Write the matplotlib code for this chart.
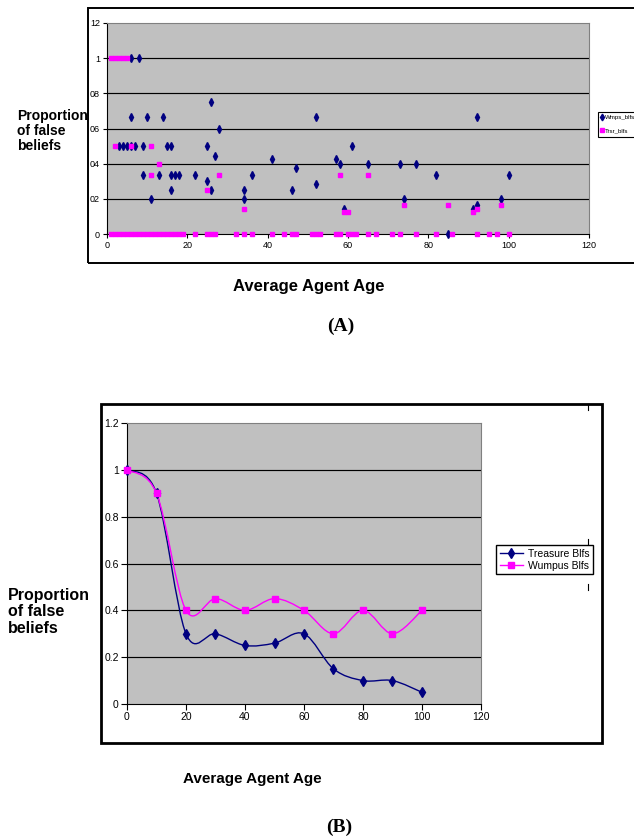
import numpy as np
import matplotlib
matplotlib.use('Agg')
import matplotlib.pyplot as plt
from matplotlib.path import Path
from matplotlib.patches import PathPatch, Rectangle
from matplotlib.lines import Line2D

plt.rcParams['font.family'] = ['Liberation Sans', 'DejaVu Sans']

# ---------------- Data: chart (A) ----------------
wmps_age = [6, 8,
            6, 10, 14,
            3, 4, 5, 6, 7, 9, 15, 16,
            9, 13, 16, 17, 18, 22,
            11, 16,
            25, 26, 28, 27, 25, 26,
            52, 41, 36, 34, 34, 47, 46, 52,
            57, 58, 59, 61, 65, 73, 77, 82, 74, 85,
            92, 100, 98, 92, 91]
wmps_val = [1, 1,
            0.667, 0.667, 0.667,
            0.5, 0.5, 0.5, 0.5, 0.5, 0.5, 0.5, 0.5,
            0.333, 0.333, 0.333, 0.333, 0.333, 0.333,
            0.2, 0.25,
            0.5, 0.75, 0.6, 0.444, 0.3, 0.25,
            0.667, 0.4286, 0.333, 0.25, 0.2, 0.375, 0.25, 0.2857,
            0.4286, 0.4, 0.143, 0.5, 0.4, 0.4, 0.4, 0.333, 0.2, 0.0,
            0.667, 0.333, 0.2, 0.167, 0.143]

trsr_zero_ages = [1, 2, 3, 4, 5, 6, 7, 8, 9, 10, 11, 12, 13, 14, 15, 16, 17, 18, 19,
                  22, 25, 26, 27, 32, 34, 36, 41, 44, 46, 47, 51, 52, 53, 57, 58,
                  60, 61, 62, 65, 67, 71, 73, 77, 82, 86, 92, 95, 97, 100]
trsr_age = [1, 2, 3, 4, 5,
            2, 6, 11,
            13,
            11, 28, 58, 65,
            25,
            34,
            59, 60, 91,
            74, 85, 98, 92] + trsr_zero_ages
trsr_val = [1, 1, 1, 1, 1,
            0.5, 0.5, 0.5,
            0.4,
            0.333, 0.333, 0.333, 0.333,
            0.25,
            0.143,
            0.125, 0.125, 0.125,
            0.167, 0.167, 0.167, 0.143] + [0.0] * len(trsr_zero_ages)

top_xticks = [0, 20, 40, 60, 80, 100, 120]
top_yticks = [0, 0.2, 0.4, 0.6, 0.8, 1.0, 1.2]
top_yticklabels = ['0', '02', '04', '06', '08', '1', '12']
top_legend = ['Wmps_blfs', 'Trsr_blfs']

# ---------------- Data: chart (B) ----------------
ages_b = [0, 10, 20, 30, 40, 50, 60, 70, 80, 90, 100]
treasure_blfs = [1.0, 0.9, 0.3, 0.3, 0.25, 0.26, 0.3, 0.15, 0.1, 0.1, 0.05]
wumpus_blfs = [1.0, 0.9, 0.4, 0.45, 0.4, 0.45, 0.4, 0.3, 0.4, 0.3, 0.4]
bot_xticks = [0, 20, 40, 60, 80, 100, 120]
bot_yticks = [0, 0.2, 0.4, 0.6, 0.8, 1.0, 1.2]
bot_yticklabels = ['0', '0.2', '0.4', '0.6', '0.8', '1', '1.2']
bot_legend = ['Treasure Blfs', 'Wumpus Blfs']

NAVY = '#000080'
MAG = '#FF00FF'
PLOTBG = '#C0C0C0'

W, H = 634, 839
fig = plt.figure(figsize=(W / 100, H / 100), dpi=100)


def fx(x):
    return x / W


def fy(y):
    return 1 - y / H


def smooth_path(x, y):
    pts = np.column_stack([x, y]).astype(float)
    n = len(pts)
    verts = [pts[0]]
    codes = [Path.MOVETO]
    for i in range(n - 1):
        p0 = pts[i - 1] if i > 0 else pts[i]
        p1 = pts[i]
        p2 = pts[i + 1]
        p3 = pts[i + 2] if i + 2 < n else pts[i + 1]
        c1 = p1 + (p2 - p0) / 6.0
        c2 = p2 - (p3 - p1) / 6.0
        verts += [c1, c2, p2]
        codes += [Path.CURVE4] * 3
    return Path(verts, codes)


def style_axes(ax, xt, yt, ytl, labelsize, ticklen):
    ax.set_facecolor(PLOTBG)
    ax.set_xlim(0, 120)
    ax.set_ylim(0, 1.2)
    ax.set_xticks(xt)
    ax.set_xticklabels([str(v) for v in xt])
    ax.set_yticks(yt)
    ax.set_yticklabels(ytl)
    for s in ['left', 'bottom']:
        ax.spines[s].set_color('black')
        ax.spines[s].set_linewidth(0.8)
    for s in ['top', 'right']:
        ax.spines[s].set_color('#808080')
        ax.spines[s].set_linewidth(0.8)
    ax.tick_params(direction='out', length=ticklen, width=0.8, colors='black',
                   labelsize=labelsize, pad=2)
    for v in yt[1:-1]:
        ax.axhline(v, color='black', lw=0.85, zorder=1)


# ---------------- Chart (A) ----------------
fig.add_artist(Rectangle((fx(88), fy(263)), (W + 10 - 88) / W, (263 - 8) / H,
                         transform=fig.transFigure, fill=False,
                         edgecolor='black', lw=1.4, clip_on=False))
axA = fig.add_axes([fx(107), fy(234), (589 - 107) / W, (234 - 23) / H])
style_axes(axA, top_xticks, top_yticks, top_yticklabels, 6.5, 3)
axA.plot(wmps_age, wmps_val, ls='none', marker='d', ms=3.6, color=NAVY,
         mec=NAVY, zorder=3, clip_on=False)
axA.plot(trsr_age, trsr_val, ls='none', marker='s', ms=3.0, color=MAG,
         mec=MAG, zorder=4, clip_on=False)

legA = fig.legend(handles=[Line2D([], [], ls='none', marker='d', ms=3.4, color=NAVY),
                           Line2D([], [], ls='none', marker='s', ms=2.8, color=MAG)],
                  labels=top_legend, loc='upper left',
                  bbox_to_anchor=(fx(598), fy(112)), frameon=True, fancybox=False,
                  edgecolor='black', framealpha=1, fontsize=4.4, handlelength=0.4,
                  handletextpad=0.2, borderpad=0.5, labelspacing=1.3,
                  borderaxespad=0)
legA.get_frame().set_linewidth(0.8)

fig.text(fx(17), fy(131), 'Proportion\nof false\nbeliefs', ha='left', va='center',
         fontsize=10, fontweight='bold', linespacing=1.1)
fig.text(fx(309), fy(287), 'Average Agent Age', ha='center', va='center',
         fontsize=12, fontweight='bold')
fig.text(fx(341), fy(326), '(A)', ha='center', va='center', fontsize=14,
         fontweight='bold', family=['Liberation Serif', 'DejaVu Serif'])

# ---------------- Chart (B) ----------------
fig.add_artist(Rectangle((fx(101), fy(743)), (602 - 101) / W, (743 - 404) / H,
                         transform=fig.transFigure, fill=False,
                         edgecolor='black', lw=2.0, clip_on=False))
for (y0, y1) in [(404, 410), (539, 545), (584, 590)]:
    fig.add_artist(Line2D([fx(588), fx(588)], [fy(y0), fy(y1)],
                          transform=fig.transFigure, color='black', lw=0.8))

axB = fig.add_axes([fx(127), fy(704), (481 - 127) / W, (704 - 423) / H])
style_axes(axB, bot_xticks, bot_yticks, bot_yticklabels, 7.5, 4)
axB.add_patch(PathPatch(smooth_path(ages_b, treasure_blfs), fill=False,
                        edgecolor=NAVY, lw=1.0, zorder=3))
axB.add_patch(PathPatch(smooth_path(ages_b, wumpus_blfs), fill=False,
                        edgecolor=MAG, lw=1.0, zorder=3))
axB.plot(ages_b, treasure_blfs, ls='none', marker='d', ms=5.0, color=NAVY,
         mec=NAVY, zorder=4, clip_on=False)
axB.plot(ages_b, wumpus_blfs, ls='none', marker='s', ms=4.2, color=MAG,
         mec=MAG, zorder=5, clip_on=False)

legB = fig.legend(handles=[Line2D([], [], marker='d', ms=5, color=NAVY, lw=1),
                           Line2D([], [], marker='s', ms=4, color=MAG, lw=1)],
                  labels=bot_legend, loc='upper left',
                  bbox_to_anchor=(fx(496), fy(545)), frameon=True, fancybox=False,
                  edgecolor='black', framealpha=1, fontsize=7.5, handlelength=2.2,
                  handletextpad=0.5, borderpad=0.35, labelspacing=0.2,
                  borderaxespad=0)
legB.get_frame().set_linewidth(1.0)

fig.text(fx(8), fy(612), 'Proportion\nof false\nbeliefs', ha='left', va='center',
         fontsize=11.5, fontweight='bold', linespacing=1.1)
fig.text(fx(252), fy(779), 'Average Agent Age', ha='center', va='center',
         fontsize=11, fontweight='bold')
fig.text(fx(339), fy(827), '(B)', ha='center', va='center', fontsize=14,
         fontweight='bold', family=['Liberation Serif', 'DejaVu Serif'])

fig.savefig('out.png', dpi=100)
